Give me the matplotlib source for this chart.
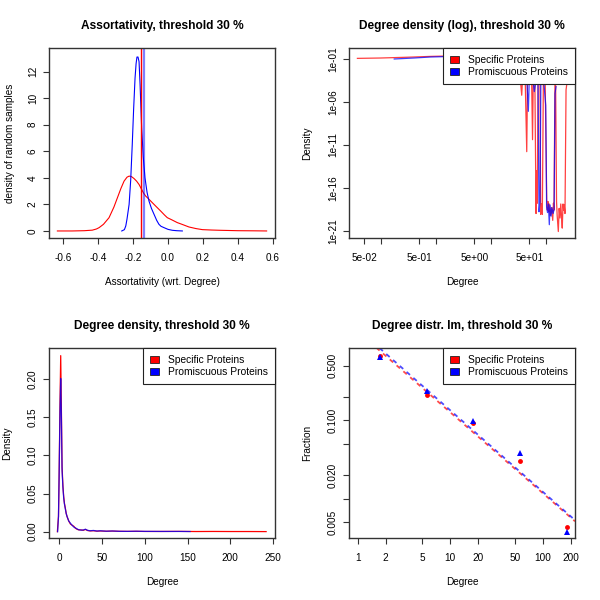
import numpy as np
import matplotlib
matplotlib.use('Agg')
import matplotlib.pyplot as plt
from matplotlib.patches import Patch

plt.rcParams['font.family'] = ['Liberation Sans', 'DejaVu Sans']

RED = '#FF0000'
BLUE = '#0000FF'
BOX = '#333333'

# --- assortativity densities (top left) ---
assort_red_x = [-0.634, -0.55, -0.48, -0.434, -0.41, -0.395, -0.37, -0.338, -0.31, -0.29, -0.27,
                -0.252, -0.235, -0.223, -0.21, -0.195, -0.18, -0.166, -0.15, -0.14, -0.128, -0.11,
                -0.09, -0.065, -0.042, -0.02, -0.004, 0.02, 0.053, 0.08, 0.12, 0.16, 0.197, 0.25,
                0.3, 0.4, 0.5, 0.565]
assort_red_y = [0.0, 0.0, 0.02, 0.06, 0.15, 0.25, 0.5, 1.0, 1.8, 2.5, 3.2,
                3.75, 4.05, 4.13, 4.1, 3.95, 3.75, 3.5, 3.1, 2.85, 2.63, 2.4,
                2.13, 1.8, 1.5, 1.2, 1.0, 0.85, 0.63, 0.5, 0.3, 0.18, 0.1, 0.07,
                0.05, 0.02, 0.01, 0.0]
assort_blue_x = [-0.265, -0.25, -0.242, -0.235, -0.223, -0.214, -0.205, -0.197, -0.189, -0.183,
                 -0.178, -0.172, -0.166, -0.16, -0.155, -0.151, -0.142, -0.132, -0.12, -0.109,
                 -0.095, -0.08, -0.065, -0.052, -0.04, -0.023, 0.0, 0.025, 0.05, 0.082]
assort_blue_y = [0.0, 0.1, 0.38, 0.9, 2.0, 3.8, 6.5, 9.2, 11.5, 12.6,
                 13.1, 13.1, 12.75, 11.0, 9.2, 7.75, 5.6, 4.0, 2.9, 2.25,
                 1.7, 1.25, 0.8, 0.5, 0.35, 0.25, 0.12, 0.05, 0.02, 0.0]
assort_red_obs = -0.153
assort_blue_obs = -0.138

# --- degree density, log-log (top right) ---
logd_red_x = [0.038, 0.1, 0.3, 0.8, 1.5, 2.0, 3, 5, 10, 20, 30, 34, 36.4, 38, 42, 44.9, 46.5, 50, 55,
              57.2, 59, 63, 66.2, 68, 69.9, 72, 78, 80.5, 83, 86.1, 90, 97, 103.5, 106, 109.2, 112,
              115, 120, 126.5, 133, 137, 140.3, 146, 150, 156, 160, 168, 174, 180.4, 186, 192, 198,
              204.5, 210, 215, 222, 232, 238.6]
logd_red_y = [0.118, 0.13, 0.16, 0.2, 0.22, 0.23, 0.12, 0.05, 0.015, 0.004, 2e-3, 1e-3, 6e-6, 1.5e-3,
              1e-3, 1.6e-12, 1e-3, 1.2e-3, 6e-4, 4e-11, 6e-4, 8e-4, 1e-19, 1e-14, 1.6e-18, 5e-4,
              6e-4, 8e-20, 1.3e-18, 8e-20, 4e-4, 2.5e-4, 4e-18, 2.5e-19, 2.5e-18, 1.6e-19, 1.3e-18,
              6e-20, 5e-19, 1.6e-20, 1.6e-18, 2.5e-19, 3e-4, 1.6e-4, 2.5e-18, 6e-20, 8e-22, 4e-19,
              3e-20, 1.3e-18, 5e-20, 2e-21, 1.3e-18, 2.5e-19, 1e-18, 1e-19, 2.5e-5, 1e-4]
logd_blue_x = [0.177, 0.4, 0.8, 1.5, 2.0, 3, 5, 10, 20, 25, 40, 45, 48.0, 50, 58, 61.6, 66, 72, 75.0,
               78.2, 81, 92, 99.3, 103, 107, 111, 115.3, 119, 124, 129, 135, 141, 146.3, 152.6]
logd_blue_y = [0.1, 0.13, 0.17, 0.19, 0.2, 0.12, 0.05, 0.015, 0.004, 3e-3, 1e-3, 6e-4, 8e-8, 6e-4,
               5e-4, 1.6e-5, 3e-4, 2.5e-4, 1.6e-19, 2.5e-18, 2.5e-4, 1.6e-4, 4e-7, 6e-19, 1.3e-19,
               1.3e-18, 5e-21, 1e-18, 5e-20, 5e-19, 1e-19, 3e-19, 1e-5, 6e-5]

# --- degree density, linear (bottom left) ---
dens_red_x = [-2.3, -1.0, -0.3, 0.8, 1.6, 2.4, 3.2, 4.2, 5.1, 6.0, 7.0, 8.0, 9.0, 11, 13, 14.9, 17,
              18.8, 21, 22.7, 26, 28, 30.5, 33, 36, 40, 44, 48, 55, 62, 70, 80, 90, 100, 120, 140,
              160, 180, 200, 220, 242]
dens_red_y = [0.0, 0.02, 0.07, 0.17, 0.231, 0.16, 0.085, 0.06, 0.046, 0.037, 0.031, 0.024, 0.020,
              0.014, 0.010, 0.0085, 0.007, 0.0045, 0.003, 0.0024, 0.0022, 0.0018, 0.003, 0.0015,
              0.001, 0.0012, 0.0007, 0.0009, 0.0006, 0.0008, 0.0005, 0.0004, 0.0005, 0.0003,
              0.0003, 0.0004, 0.0002, 0.0003, 0.0002, 0.0002, 0.0001]
dens_blue_x = [-2.0, -1.0, -0.3, 0.8, 1.6, 2.4, 3.2, 4.2, 5.1, 6.0, 7.0, 8.0, 9.0, 11, 13, 14.9, 17,
               18.8, 21, 22.7, 26, 28, 30.5, 33, 36, 40, 44, 48, 55, 62, 70, 80, 90, 100, 120, 140,
               153]
dens_blue_y = [0.0, 0.02, 0.07, 0.16, 0.201, 0.15, 0.08, 0.058, 0.044, 0.036, 0.030, 0.024, 0.020,
               0.014, 0.011, 0.0085, 0.006, 0.005, 0.0035, 0.0025, 0.002, 0.0022, 0.0032, 0.0018,
               0.0012, 0.0016, 0.0008, 0.0012, 0.0006, 0.0009, 0.0005, 0.0004, 0.0006, 0.0004,
               0.0003, 0.0003, 0.0002]

# --- binned degree distribution (bottom right) ---
bin_red_x = [1.74, 5.56, 17.7, 56.6, 180.7]
bin_red_y = [0.665, 0.211, 0.0919, 0.0306, 0.00435]
bin_blue_x = [1.74, 5.56, 17.7, 56.6, 180.7]
bin_blue_y = [0.64, 0.24, 0.0994, 0.0387, 0.0038]

legend_labels = ['Specific Proteins', 'Promiscuous Proteins']


def style_axes(ax, title, xlabel, ylabel):
    for s in ax.spines.values():
        s.set_color(BOX)
        s.set_linewidth(1.0)
    ax.tick_params(direction='out', length=4, width=0.8, color=BOX, labelsize=7.2, pad=7)
    ax.tick_params(axis='y', labelrotation=90, pad=4)
    for lab in ax.get_yticklabels():
        lab.set_va('center')
    ax.minorticks_off()
    ax.set_title(title, fontsize=8.6, fontweight='bold', pad=14)
    ax.set_xlabel(xlabel, fontsize=7.2, va='center')
    ax.xaxis.set_label_coords(0.5, -44 / 190)
    ax.set_ylabel(ylabel, fontsize=7.2, va='center')
    ax.yaxis.set_label_coords(-39 / 226, 0.5)


def add_legend(ax):
    handles = [Patch(facecolor=RED, edgecolor='#222222', linewidth=0.6),
               Patch(facecolor=BLUE, edgecolor='#222222', linewidth=0.6)]
    leg = ax.legend(handles, legend_labels, loc='upper right', borderaxespad=0, fontsize=7.4,
                    fancybox=False, framealpha=1, edgecolor='#222222', handlelength=0.8,
                    handleheight=0.75, handletextpad=0.9, labelspacing=0.2, borderpad=0.7)
    leg.get_frame().set_linewidth(0.8)
    leg.set_zorder(10)


fig = plt.figure(figsize=(6, 6), dpi=100)
W, H = 226 / 600, 190 / 600
ax1 = fig.add_axes([49 / 600, 1 - 238 / 600, W, H])
ax2 = fig.add_axes([349 / 600, 1 - 238 / 600, W, H])
ax3 = fig.add_axes([49 / 600, 1 - 538 / 600, W, H])
ax4 = fig.add_axes([349 / 600, 1 - 538 / 600, W, H])

# top left
ax1.plot(assort_red_x, assort_red_y, color=RED, lw=0.8)
ax1.plot(assort_blue_x, assort_blue_y, color=BLUE, lw=0.8)
ax1.axvline(assort_red_obs, color=RED, lw=1.0)
ax1.axvline(assort_blue_obs, color=BLUE, lw=1.6, alpha=0.5)
ax1.set_xlim(-0.682, 0.613)
ax1.set_ylim(-0.53, 13.78)
ax1.set_xticks(np.arange(-0.6, 0.61, 0.2))
ax1.set_xticklabels(['-0.6', '-0.4', '-0.2', '0.0', '0.2', '0.4', '0.6'])
ax1.set_yticks([0, 2, 4, 6, 8, 10, 12])
style_axes(ax1, 'Assortativity, threshold 30 %', 'Assortativity (wrt. Degree)',
           'density of random samples')

# top right
ax2.plot(logd_red_x, logd_red_y, color=RED, lw=0.9, alpha=0.75)
ax2.plot(logd_blue_x, logd_blue_y, color=BLUE, lw=0.9, alpha=0.75)
ax2.set_xscale('log')
ax2.set_yscale('log')
ax2.set_xlim(10 ** -1.573, 10 ** 2.528)
ax2.set_ylim(10 ** -21.85, 10 ** 0.28)
ax2.set_xticks([0.05, 0.1, 0.5, 1, 5, 10, 50, 100])
ax2.set_xticklabels(['5e-02', '', '5e-01', '', '5e+00', '', '5e+01', ''])
ax2.set_yticks([1e-21, 1e-16, 1e-11, 1e-6, 1e-1])
ax2.set_yticklabels(['1e-21', '1e-16', '1e-11', '1e-06', '1e-01'])
style_axes(ax2, 'Degree density (log), threshold 30 %', 'Degree', 'Density')
ax2.yaxis.set_label_coords(-42 / 226, 0.5)
add_legend(ax2)

# bottom left
ax3.plot(dens_red_x, dens_red_y, color=RED, lw=0.9)
ax3.plot(dens_blue_x, dens_blue_y, color=BLUE, lw=0.9, alpha=0.8)
ax3.set_xlim(-12.1, 252.4)
ax3.set_ylim(-0.0083, 0.241)
ax3.set_xticks([0, 50, 100, 150, 200, 250])
ax3.set_yticks([0, 0.05, 0.10, 0.15, 0.20])
ax3.set_yticklabels(['0.00', '0.05', '0.10', '0.15', '0.20'])
style_axes(ax3, 'Degree density, threshold 30 %', 'Degree', 'Density')
ax3.yaxis.set_label_coords(-42 / 226, 0.5)
add_legend(ax3)

# bottom right
ax4.set_xscale('log')
ax4.set_yscale('log')
ax4.set_xlim(10 ** -0.094, 10 ** 2.348)
ax4.set_ylim(10 ** -2.502, 10 ** -0.075)
xs = np.array(ax4.get_xlim())
for bx, by, col, dash in [(bin_red_x, bin_red_y, RED, (2.5, 2.5)),
                          (bin_blue_x, bin_blue_y, BLUE, (0, (1.25, 2.5, 1.25, 0)))]:
    slope, icpt = np.polyfit(np.log10(bx), np.log10(by), 1)
    line, = ax4.plot(xs, 10 ** icpt * xs ** slope, color=col, lw=1.3, alpha=0.7)
    if col == RED:
        line.set_dashes((2.5, 2.5))
    else:
        line.set_linestyle((2.5, (2.5, 2.5)))
ax4.plot(bin_red_x, bin_red_y, 'o', color=RED, ms=3.5, mew=0)
ax4.plot(bin_blue_x, bin_blue_y, '^', color=BLUE, ms=4.5, mew=0)
ax4.set_xticks([1, 2, 5, 10, 20, 50, 100, 200])
ax4.set_xticklabels(['1', '2', '5', '10', '20', '50', '100', '200'])
ax4.set_yticks([0.005, 0.01, 0.02, 0.05, 0.1, 0.2, 0.5])
ax4.set_yticklabels(['0.005', '', '0.020', '', '0.100', '', '0.500'])
style_axes(ax4, 'Degree distr. lm, threshold 30 %', 'Degree', 'Fraction')
ax4.yaxis.set_label_coords(-42 / 226, 0.5)
add_legend(ax4)

fig.savefig('out.png', dpi=100)
